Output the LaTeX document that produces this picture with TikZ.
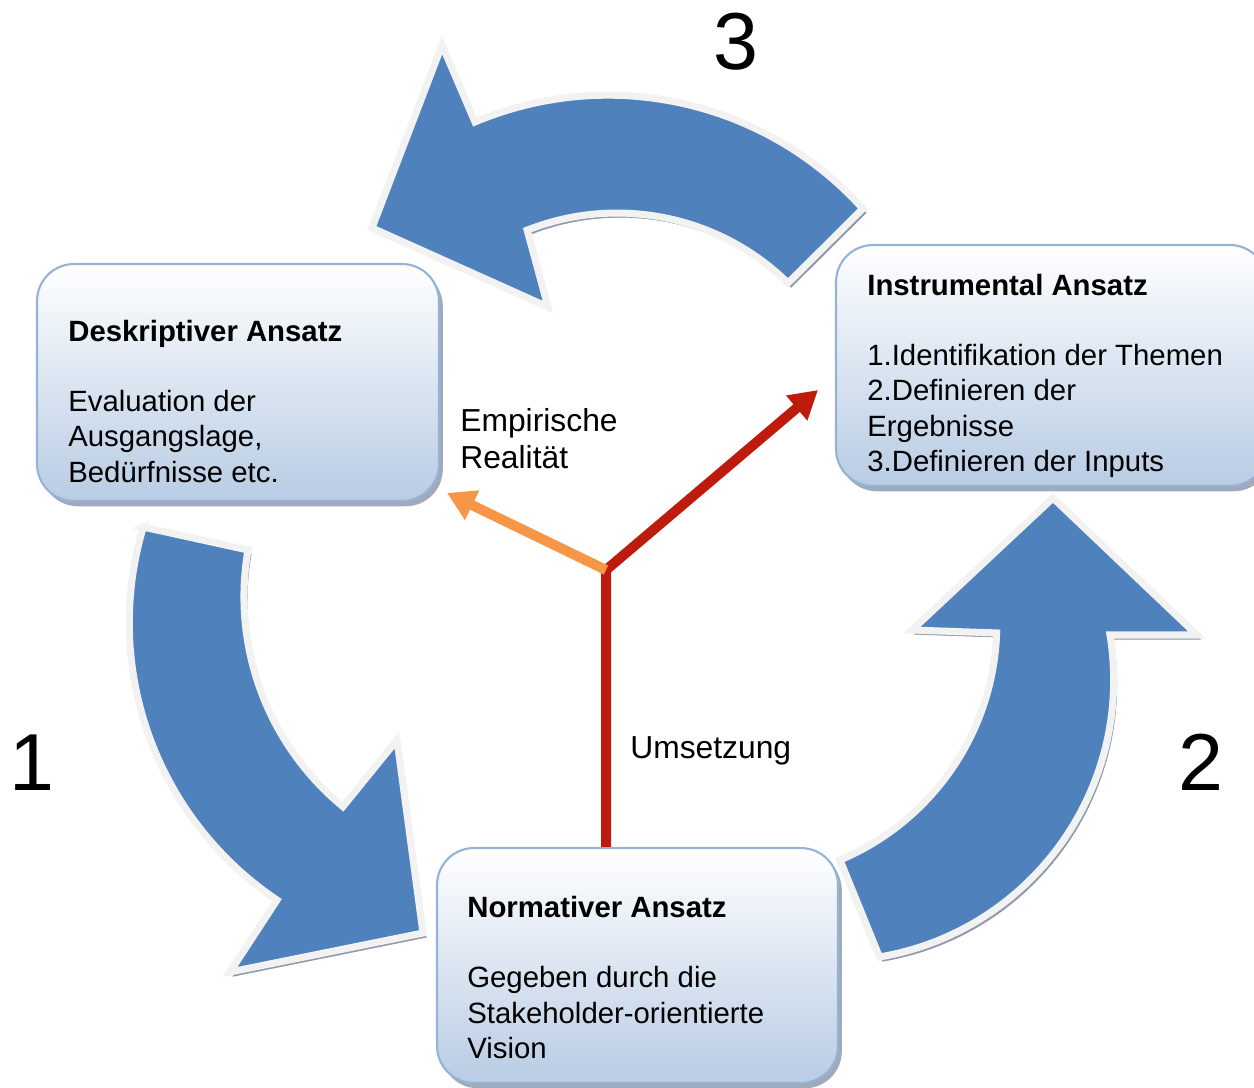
\documentclass[tikz,border=0pt]{standalone}
\usepackage{fontspec}
\setmainfont{Liberation Sans}
\usetikzlibrary{arrows.meta, positioning, shadows}

\definecolor{arrowblue}{HTML}{4F81BD}
\definecolor{arrowrim}{HTML}{F2F2F2}
\definecolor{arrowshade}{HTML}{8E9AAB}
\definecolor{boxline}{HTML}{95B3D7}
\definecolor{boxfill}{HTML}{B8CCE4}
\definecolor{boxshade}{HTML}{A0AABA}
\definecolor{realred}{HTML}{BE1B0F}
\definecolor{realorange}{HTML}{F79646}

\begin{document}
\begin{tikzpicture}[
    x=0.02cm, y=-0.02cm,
    approach/.style={draw=boxline, line width=1.2pt, rounded corners=0.74cm,
      top color=white, bottom color=boxfill,
      minimum width=8.04cm, minimum height=4.74cm,
      drop shadow={shadow xshift=2.2pt, shadow yshift=-3pt,
        fill=boxshade, opacity=1}},
    boxtext/.style={font=\fontsize{16.7}{20}\selectfont, align=left,
      inner sep=0pt},
    realtext/.style={font=\fontsize{18.1}{21.3}\selectfont, align=left,
      inner sep=0pt},
    cyclearrow/.style={fill=arrowblue, draw=arrowrim, line width=4pt,
      line join=miter,
      preaction={fill=arrowshade, draw=arrowshade,
        transform canvas={xshift=1.8pt, yshift=-2.4pt}}},
    realline/.style={line width=5.7pt, line join=round,
      -{Triangle[length=0.56cm, width=0.62cm]}},
    digit/.style={font=\fontsize{46}{50}\selectfont, inner sep=0pt}
  ]
  \useasboundingbox (0,0) rectangle (1254,1088);

  % cycle arrows
  \draw[cyclearrow] (143,527) -- (248,550)
    arc[start angle=-170.1, end angle=-230.5, radius=272]
    -- (397,740) -- (423,933) -- (230,972) -- (277,900)
    arc[start angle=123.9, end angle=196.7, radius=334] -- cycle;
  \draw[cyclearrow] (840,860)
    arc[start angle=67.2, end angle=2.0, radius=256]
    -- (912,630) -- (1053,498) -- (1197,635) -- (1110,635)
    arc[start angle=-9.2, end angle=80.4, radius=281] -- cycle;
  \draw[cyclearrow] (442,45) -- (475,122)
    arc[start angle=-112.8, end angle=-42, radius=343]
    -- (788,283)
    arc[start angle=-45.5, end angle=-111.6, radius=244]
    -- (548,307) -- (372,228) -- cycle;

  % approaches
  \node[approach] (desk) at (238,382.5) {};
  \node[approach, minimum width=8.62cm, minimum height=4.82cm]
    (instr) at (1051.5,365.5) {};
  \node[approach, minimum width=8.02cm, minimum height=4.7cm]
    (norm) at (637.5,965.5) {};

  \node[boxtext, below right=1.14cm and 0.64cm of desk.north west]
    (desktext) {\textbf{Deskriptiver Ansatz}\\[20pt]Evaluation der\\
    Ausgangslage,\\Bedürfnisse etc.};
  \node[boxtext, below right=0.6cm and 0.64cm of instr.north west]
    (instrtext) {\textbf{Instrumental Ansatz}\\[20pt]1.Identifikation der
    Themen\\2.Definieren der\\Ergebnisse\\3.Definieren der Inputs};
  \node[boxtext, below right=0.98cm and 0.62cm of norm.north west]
    (normtext) {\textbf{Normativer Ansatz}\\[20pt]Gegeben durch die\\
    Stakeholder-orientierte\\Vision};

  % reality and implementation
  \coordinate (hub) at (606,570);
  \coordinate (instrend) at (818,390);
  \coordinate (empirend) at (447,493);
  \draw[realline, draw=realred] (hub |- norm.north) -- (hub) -- (instrend);
  \draw[realline, draw=realorange] (hub) -- (empirend);

  \node[realtext, anchor=north west] (empirisch) at (460,408)
    {Empirische\\Realität};
  \node[realtext, anchor=base west] (umsetzung) at (630,758) {Umsetzung};

  \node[digit] (stepone) at (32,763) {1};
  \node[digit] (steptwo) at (1201,762) {2};
  \node[digit] (stepthree) at (736,42) {3};
\end{tikzpicture}
\end{document}
